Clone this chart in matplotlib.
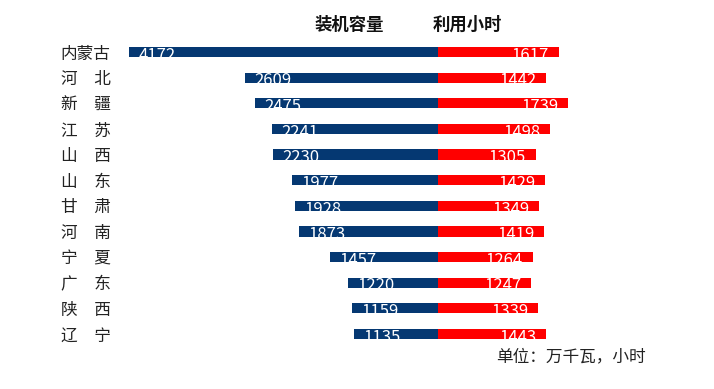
import matplotlib.pyplot as plt

plt.rcParams["font.family"] = ["Noto Sans CJK SC", "DejaVu Sans"]

provinces = ["内蒙古", "河　北", "新　疆", "江　苏", "山　西", "山　东",
             "甘　肃", "河　南", "宁　夏", "广　东", "陕　西", "辽　宁"]
capacity = [4172, 2609, 2475, 2241, 2230, 1977, 1928, 1873, 1457, 1220, 1159, 1135]
hours = [1617, 1442, 1739, 1498, 1305, 1429, 1349, 1419, 1264, 1247, 1339, 1443]

navy = "#053872"
red = "#ff0000"

W, H = 714, 389
fig = plt.figure(figsize=(W / 100, H / 100), dpi=100)

center = 438
top, bottom = 39.2, 346.8
ax_l = fig.add_axes([112 / W, 1 - bottom / H, (center - 112) / W, (bottom - top) / H])
ax_r = fig.add_axes([center / W, 1 - bottom / H, 149.6 / W, (bottom - top) / H])

ypos = list(range(len(provinces)))
ax_l.barh(ypos, capacity, height=0.4, color=navy)
ax_r.barh(ypos, hours, height=0.4, color=red)

for ax in (ax_l, ax_r):
    ax.set_ylim(11.5, -0.5)
    for s in ax.spines.values():
        s.set_visible(False)
    ax.set_xticks([])
    ax.tick_params(axis="y", length=0)

ax_l.set_xlim(4400, 0)
ax_r.set_xlim(0, 2000)
ax_r.set_yticks([])
ax_l.set_yticks(ypos)
ax_l.set_yticklabels(provinces, fontsize=12, color="#222222")
ax_l.tick_params(axis="y", pad=1)

# value labels sit low in the bar, the part below the bar disappears on white
for y, v in zip(ypos, capacity):
    ax_l.annotate(str(v), (v, y + 0.3), xytext=(7, 0), textcoords="offset points",
                  ha="left", va="baseline", color="white", fontsize=12)
for y, v in zip(ypos, hours):
    ax_r.annotate(str(v), (v, y + 0.3), xytext=(-7, 0), textcoords="offset points",
                  ha="right", va="baseline", color="white", fontsize=12)

fig.text(349 / W, 1 - 25 / H, "装机容量", ha="center", va="center",
         fontsize=12.5, fontweight="bold", color="#111111")
fig.text(467 / W, 1 - 25 / H, "利用小时", ha="center", va="center",
         fontsize=12.5, fontweight="bold", color="#111111")
fig.text(496 / W, 1 - 357 / H, "单位：万千瓦，小时", ha="left", va="center",
         fontsize=12, color="#222222")

fig.savefig("out.png", dpi=100)
